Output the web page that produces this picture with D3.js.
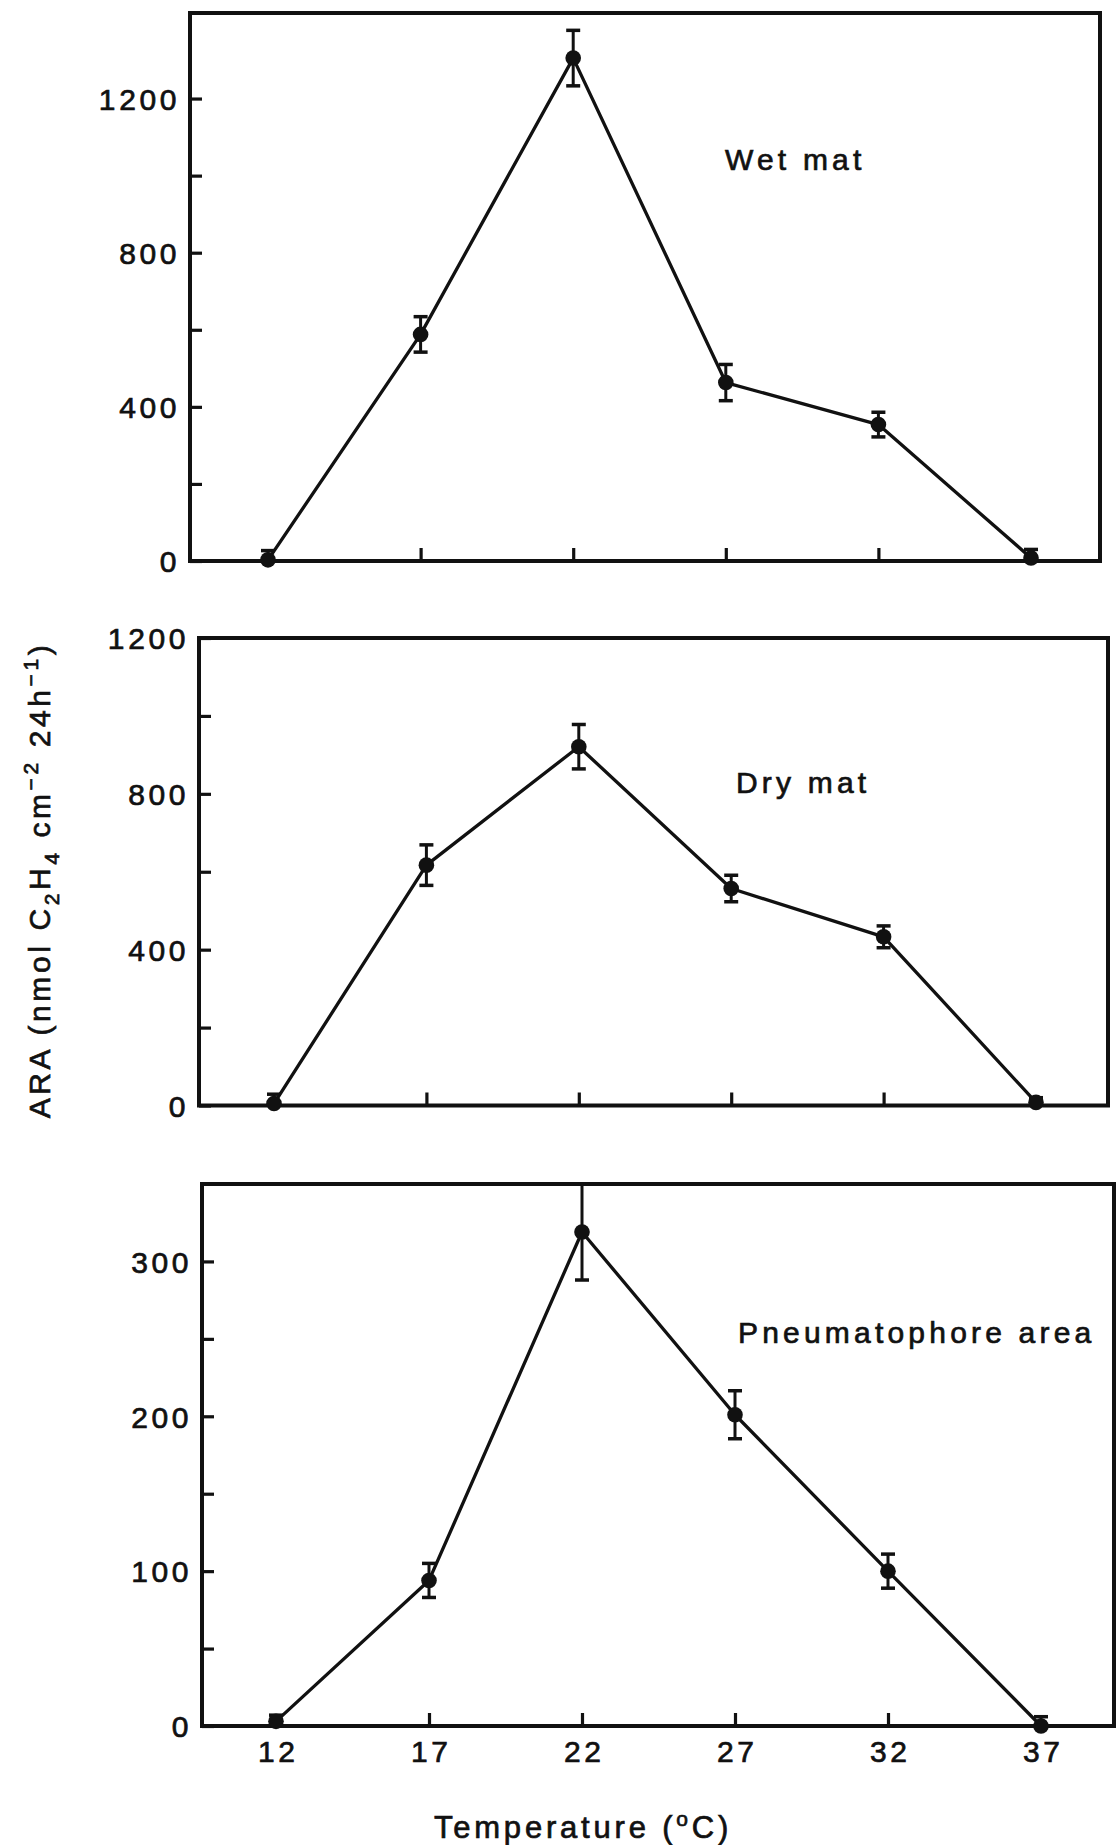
<!DOCTYPE html>
<html>
<head>
<meta charset="utf-8">
<script src="https://cdnjs.cloudflare.com/ajax/libs/d3/7.8.5/d3.min.js"></script>
<style>
  html, body { margin: 0; padding: 0; background: #fff; }
  svg { display: block; }
  text { font-family: "Liberation Sans", Arial, Helvetica, sans-serif; fill: #111; stroke: #111; stroke-width: 0.7px; }
</style>
</head>
<body>
<svg id="chart" width="1116" height="1845"></svg>
<script>
// ---------------- DATA ----------------
const temperatures = [12, 17, 22, 27, 32, 37];

const wetMatMean = [3, 588, 1305, 463, 354, 8];
const wetMatErr  = [24, 46, 72, 47, 32, 22];

const dryMatMean = [5, 617, 921, 557, 433, 8];
const dryMatErr  = [24, 52, 57, 34, 28, 12];

const pneuMean = [3, 94, 319, 201, 100, 0];
const pneuErr  = [4, 11, 31, 15.5, 11, 6];

const panelNames = ["Wet mat", "Dry mat", "Pneumatophore area"];

const wetMajorTicks = [0, 400, 800, 1200];
const wetMinorTicks = [200, 600, 1000];
const dryMajorTicks = [0, 400, 800, 1200];
const dryMinorTicks = [200, 600, 1000];
const pneuMajorTicks = [0, 100, 200, 300];
const pneuMinorTicks = [50, 150, 250];

const xTickMarks = [17, 22, 27, 32];
const xTickLabels = ["12", "17", "22", "27", "32", "37"];

const xAxisTitle = "Temperature (";
const yAxisTitle = "ARA (nmol C";

// ---------------- LAYOUT ----------------
const layout = [
  { left: 190, right: 1100, top: 13,   bottom: 561,    yMax: 1422, x12: 268, x37: 1031, lx: 725, ly: 170 },
  { left: 199, right: 1108, top: 638,  bottom: 1105.5, yMax: 1200, x12: 274, x37: 1036, lx: 736, ly: 793 },
  { left: 202, right: 1114, top: 1184, bottom: 1726,   yMax: 350,  x12: 276, x37: 1041, lx: 738, ly: 1343 }
];

const series = [
  { mean: wetMatMean, err: wetMatErr, major: wetMajorTicks, minor: wetMinorTicks },
  { mean: dryMatMean, err: dryMatErr, major: dryMajorTicks, minor: dryMinorTicks },
  { mean: pneuMean,   err: pneuErr,   major: pneuMajorTicks, minor: pneuMinorTicks }
];

const INK = "#111";
const FS = 30;
const LS = 3.6;

const svg = d3.select("#chart");

series.forEach((s, i) => {
  const L = layout[i];
  const x = d3.scaleLinear().domain([12, 37]).range([L.x12, L.x37]);
  const y = d3.scaleLinear().domain([0, L.yMax]).range([L.bottom, L.top]);
  const g = svg.append("g");

  // frame
  g.append("rect")
    .attr("x", L.left).attr("y", L.top)
    .attr("width", L.right - L.left).attr("height", L.bottom - L.top)
    .attr("fill", "none").attr("stroke", INK).attr("stroke-width", 4);

  // y axis ticks (inward) with labels on majors
  const yAxis = d3.axisLeft(y)
    .tickValues(s.major.concat(s.minor))
    .tickSize(-12)
    .tickPadding(0)
    .tickFormat(d => s.major.includes(d) ? String(d) : "");
  const ya = g.append("g").attr("transform", `translate(${L.left},0)`).call(yAxis);
  ya.select(".domain").remove();
  ya.selectAll(".tick line").attr("stroke", INK).attr("stroke-width", 3.2);
  ya.selectAll(".tick text")
    .attr("x", -10)
    .attr("dy", "0.36em")
    .attr("fill", INK)
    .style("font-size", FS + "px")
    .style("letter-spacing", LS + "px")
    .style("font-family", '"Liberation Sans", Arial, sans-serif');

  // x axis tick marks (inward)
  const xAxis = d3.axisBottom(x).tickValues(xTickMarks).tickSize(-13).tickFormat("");
  const xa = g.append("g").attr("transform", `translate(0,${L.bottom})`).call(xAxis);
  xa.select(".domain").remove();
  xa.selectAll(".tick line").attr("stroke", INK).attr("stroke-width", 3.2);

  // x labels only on bottom panel
  if (i === series.length - 1) {
    const xl = d3.axisBottom(x).tickValues(temperatures).tickSize(0).tickPadding(0)
      .tickFormat((d, k) => xTickLabels[k]);
    const xla = g.append("g").attr("transform", `translate(0,${L.bottom})`).call(xl);
    xla.select(".domain").remove();
    xla.selectAll(".tick text")
      .attr("y", 36)
      .attr("dy", 0)
      .attr("dx", LS / 2)
      .attr("fill", INK)
      .style("font-size", FS + "px")
      .style("letter-spacing", LS + "px")
      .style("font-family", '"Liberation Sans", Arial, sans-serif');
  }

  const pts = temperatures.map((t, k) => ({ t, v: s.mean[k], e: s.err[k] }));

  // line
  g.append("path")
    .datum(pts)
    .attr("fill", "none").attr("stroke", INK).attr("stroke-width", 3.3)
    .attr("stroke-linejoin", "round")
    .attr("d", d3.line().x(d => x(d.t)).y(d => y(d.v)));

  // error bars
  const eb = g.append("g").selectAll("g").data(pts).join("g");
  const yc = v => Math.min(L.bottom, Math.max(L.top, y(v)));
  eb.append("line")
    .attr("x1", d => x(d.t)).attr("x2", d => x(d.t))
    .attr("y1", d => yc(d.v + d.e)).attr("y2", d => yc(d.v - d.e))
    .attr("stroke", INK).attr("stroke-width", 3);
  eb.filter(d => y(d.v + d.e) > L.top + 2).append("line")
    .attr("x1", d => x(d.t) - 7).attr("x2", d => x(d.t) + 7)
    .attr("y1", d => y(d.v + d.e)).attr("y2", d => y(d.v + d.e))
    .attr("stroke", INK).attr("stroke-width", 3.5);
  eb.filter(d => y(d.v - d.e) < L.bottom - 2).append("line")
    .attr("x1", d => x(d.t) - 7).attr("x2", d => x(d.t) + 7)
    .attr("y1", d => y(d.v - d.e)).attr("y2", d => y(d.v - d.e))
    .attr("stroke", INK).attr("stroke-width", 3.5);

  // points
  g.append("g").selectAll("circle").data(pts).join("circle")
    .attr("cx", d => x(d.t)).attr("cy", d => y(d.v)).attr("r", 7.8)
    .attr("fill", INK);

  // panel label
  g.append("text")
    .attr("x", L.lx).attr("y", L.ly)
    .style("font-size", FS + "px")
    .style("letter-spacing", (LS + 0.6) + "px")
    .text(panelNames[i]);
});

// x axis title: Temperature (°C)
const xt = svg.append("text")
  .attr("x", 583).attr("y", 1838)
  .attr("text-anchor", "middle")
  .style("font-size", "31px")
  .style("letter-spacing", "3.8px");
xt.append("tspan").text(xAxisTitle);
xt.append("tspan").attr("dy", -12).style("font-size", "21px").text("o");
xt.append("tspan").attr("dy", 12).text("C)");

// y axis title: ARA (nmol C2H4 cm-2 24h-1)
const yt = svg.append("text")
  .attr("transform", "translate(50,880) rotate(-90)")
  .attr("text-anchor", "middle")
  .style("font-size", "30px")
  .style("letter-spacing", "3.6px");
yt.append("tspan").text(yAxisTitle);
yt.append("tspan").attr("dy", 9).style("font-size", "21px").text("2");
yt.append("tspan").attr("dy", -9).text("H");
yt.append("tspan").attr("dy", 9).style("font-size", "21px").text("4");
yt.append("tspan").attr("dy", -9).text(" cm");
yt.append("tspan").attr("dy", -12).style("font-size", "21px").text("\u22122");
yt.append("tspan").attr("dy", 12).text(" 24h");
yt.append("tspan").attr("dy", -12).style("font-size", "21px").text("\u22121");
yt.append("tspan").attr("dy", 12).text(")");
</script>
</body>
</html>
